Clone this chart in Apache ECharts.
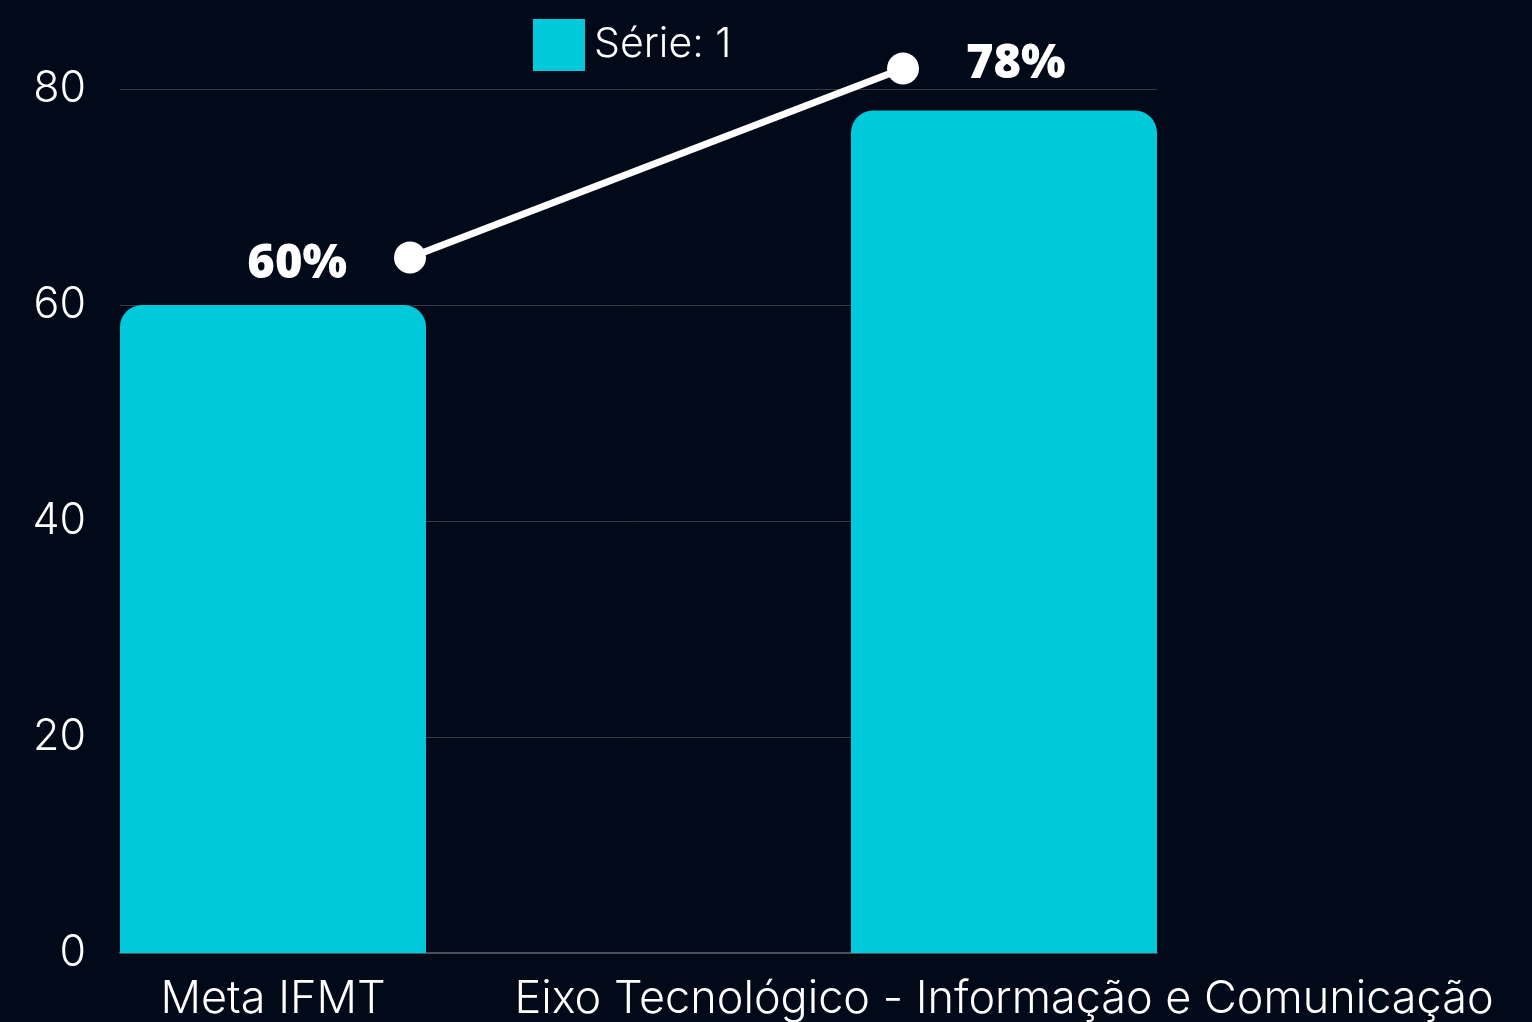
<!DOCTYPE html>
<html>
<head>
<meta charset="utf-8">
<script src="https://cdn.jsdelivr.net/npm/echarts@6/dist/echarts.min.js"></script>
<style>
  html, body { margin: 0; padding: 0; background: #020a19; }
  #main { width: 1532px; height: 1022px; }
</style>
</head>
<body>
<div id="main"></div>
<script>
// data
const categories = ["Meta IFMT", "Eixo Tecnológico - Informação e Comunicação"]
const barValues = [60, 78]
const lineValues = [64.4, 81.9]
const seriesName = "Série: 1"
const yTicks = { min: 0, max: 80, interval: 20 }

const chart = echarts.init(document.getElementById("main"))

const thinFont = "Inter"
const cyan = "#00c9db"

// each bar sits in its own series so the pair can hug the grid edges
const barSeries = categories.map((c, i) => ({
  name: seriesName,
  type: "bar",
  xAxisIndex: 0,
  yAxisIndex: 0,
  barWidth: 306,
  barGap: "-30.56%",
  itemStyle: { color: cyan, borderRadius: [22, 22, 0, 0] },
  label: {
    show: true,
    position: "bottom",
    distance: 24,
    formatter: () => c,
    color: "#ffffff",
    fontFamily: thinFont,
    fontWeight: 300,
    fontSize: 45
  },
  data: barValues.map((v, j) => (j == i ? v : "-"))
}))

const option = {
  backgroundColor: "#020a19",
  animation: false,
  legend: {
    data: [{ name: seriesName, icon: "rect" }],
    left: 528,
    top: 14,
    itemWidth: 52,
    itemHeight: 52,
    itemGap: 10,
    textStyle: { color: "#ffffff", fontFamily: thinFont, fontWeight: 300, fontSize: 41, padding: [0, 0, 0, 4] }
  },
  grid: [
    { left: 120, right: 375, top: 89, bottom: 69 },
    { left: 410, right: 629, top: 89, bottom: 69 }
  ],
  xAxis: [
    {
      type: "category",
      gridIndex: 0,
      data: categories,
      axisLine: { lineStyle: { color: "#4a4f5b", width: 2 } },
      axisTick: { show: false },
      axisLabel: { show: false }
    },
    {
      type: "category",
      gridIndex: 1,
      boundaryGap: false,
      data: categories,
      show: false
    }
  ],
  yAxis: [
    {
      type: "value",
      gridIndex: 0,
      min: yTicks.min,
      max: yTicks.max,
      interval: yTicks.interval,
      axisLine: { show: false },
      axisTick: { show: false },
      splitLine: { lineStyle: { color: "#353a47", width: 1 } },
      axisLabel: { color: "#ffffff", fontFamily: thinFont, fontWeight: 300, fontSize: 43, margin: 34, padding: [4, 0, 0, 0] }
    },
    {
      type: "value",
      gridIndex: 1,
      min: yTicks.min,
      max: yTicks.max,
      show: false
    }
  ],
  series: [
    ...barSeries,
    {
      type: "line",
      xAxisIndex: 1,
      yAxisIndex: 1,
      clip: false,
      symbol: "circle",
      symbolSize: 32,
      lineStyle: { color: "#ffffff", width: 7 },
      itemStyle: { color: "#ffffff" },
      label: {
        show: true,
        color: "#ffffff",
        fontFamily: "Open Sans",
        fontWeight: 800,
        fontSize: 47,
        distance: 47,
        formatter: p => barValues[p.dataIndex] + "%"
      },
      data: lineValues.map((v, i) => ({
        value: v,
        label: i == 0 ? { position: "left", offset: [0, 7] } : { position: "right", offset: [0, -4] }
      }))
    }
  ]
}

chart.setOption(option)
</script>
</body>
</html>
